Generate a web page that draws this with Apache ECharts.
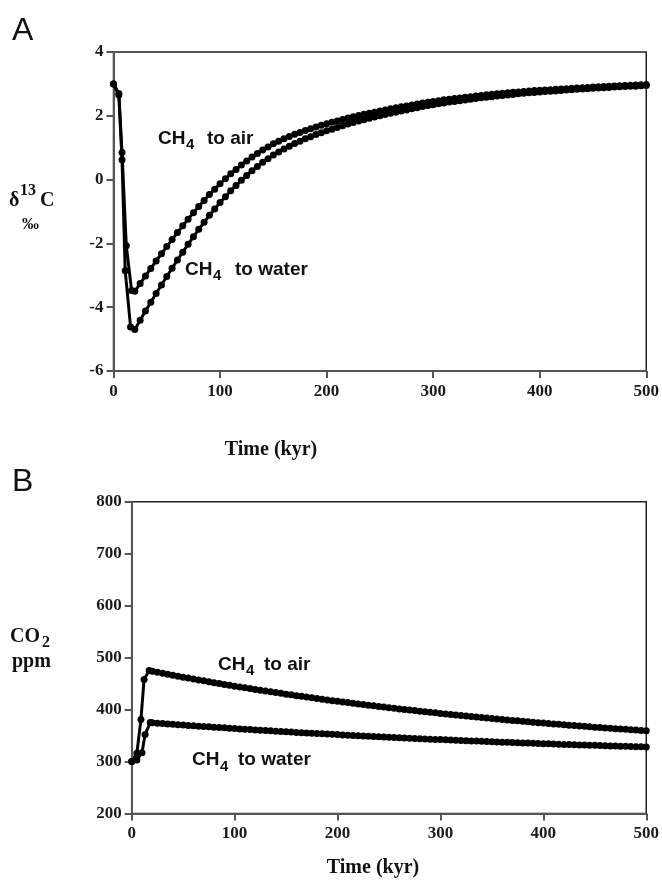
<!DOCTYPE html>
<html>
<head>
<meta charset="utf-8">
<script src="https://cdn.jsdelivr.net/npm/echarts@6/dist/echarts.min.js"></script>
<style>
html,body{margin:0;padding:0;background:#fff;}
#chart{width:662px;height:882px;}
</style>
</head>
<body>
<div id="chart"></div>
<script>
// ---- Data ----
// Time grid after the initial perturbation (kyr)
var tailTime = [20,25,30,35,40,45,50,55,60,65,70,75,80,85,90,95,100,105,110,115,
  120,125,130,135,140,145,150,155,160,165,170,175,180,185,190,195,200,205,210,215,
  220,225,230,235,240,245,250,255,260,265,270,275,280,285,290,295,300,305,310,315,
  320,325,330,335,340,345,350,355,360,365,370,375,380,385,390,395,400,405,410,415,
  420,425,430,435,440,445,450,455,460,465,470,475,480,485,490,495,500];

// Panel A: delta13C (permil)
var d13AirEarlyT = [0,5,8,12,17];
var d13AirEarly  = [3.0,2.7,0.85,-2.07,-3.48];
var d13WaterEarlyT = [0,5,8,11,16];
var d13WaterEarly  = [3.0,2.65,0.62,-2.86,-4.62];
var d13AirTail = [-3.50,-3.26,-3.02,-2.785,-2.55,-2.325,-2.10,-1.88,-1.66,-1.45,
  -1.24,-1.04,-0.84,-0.655,-0.47,-0.30,-0.13,0.025,0.18,0.32,
  0.46,0.585,0.71,0.82,0.93,1.025,1.12,1.20,1.28,1.35,
  1.42,1.48,1.54,1.595,1.65,1.70,1.75,1.795,1.84,1.885,
  1.93,1.97,2.01,2.045,2.08,2.115,2.15,2.185,2.22,2.25,
  2.28,2.31,2.34,2.37,2.40,2.425,2.45,2.475,2.50,2.52,
  2.54,2.56,2.58,2.60,2.62,2.64,2.66,2.675,2.69,2.705,
  2.72,2.735,2.75,2.765,2.78,2.79,2.80,2.81,2.82,2.83,
  2.84,2.85,2.86,2.87,2.88,2.89,2.90,2.91,2.92,2.93,
  2.935,2.945,2.95,2.96,2.965,2.975,2.98];
var d13WaterTail = [-4.70,-4.41,-4.12,-3.845,-3.57,-3.305,-3.04,-2.78,-2.52,-2.275,
  -2.03,-1.795,-1.56,-1.34,-1.12,-0.92,-0.72,-0.535,-0.35,-0.185,
  -0.02,0.13,0.28,0.41,0.54,0.655,0.77,0.865,0.96,1.045,
  1.13,1.205,1.28,1.345,1.41,1.47,1.53,1.58,1.635,1.69,
  1.74,1.79,1.835,1.88,1.92,1.96,2.00,2.04,2.08,2.115,
  2.15,2.185,2.22,2.255,2.29,2.32,2.35,2.38,2.405,2.43,
  2.45,2.475,2.495,2.52,2.54,2.565,2.585,2.60,2.62,2.64,
  2.655,2.67,2.69,2.705,2.72,2.73,2.745,2.76,2.77,2.78,
  2.795,2.805,2.815,2.83,2.84,2.85,2.86,2.87,2.88,2.89,
  2.90,2.91,2.915,2.925,2.93,2.94,2.95];

// Panel B: CO2 (ppm)
var co2AirEarlyT = [0,5,9,12,17];
var co2AirEarly  = [300,316,381,458,475];
var co2WaterEarlyT = [0,5,10,13,18];
var co2WaterEarly  = [300,303,317,352,375];
var co2AirTail = [473.8,471.9,469.9,468.0,466.1,464.3,462.4,460.6,458.8,457.0,
  455.3,453.5,451.8,450.1,448.4,446.8,445.1,443.5,441.9,440.3,
  438.8,437.2,435.7,434.2,432.7,431.2,429.7,428.3,426.8,425.4,
  424.0,422.6,421.3,419.9,418.6,417.2,415.9,414.6,413.4,412.1,
  410.8,409.6,408.4,407.2,406.0,404.8,403.6,402.5,401.3,400.2,
  399.1,398.0,396.9,395.8,394.7,393.7,392.6,391.6,390.6,389.5,
  388.5,387.6,386.6,385.6,384.7,383.7,382.8,381.9,381.0,380.0,
  379.2,378.3,377.4,376.5,375.7,374.8,374.0,373.2,372.4,371.6,
  370.8,370.0,369.2,368.4,367.7,366.9,366.2,365.4,364.7,364.0,
  363.3,362.6,361.9,361.2,360.5,359.8,359.2];
var co2WaterTail = [374.7,373.9,373.2,372.4,371.7,371.0,370.2,369.5,368.8,368.1,
  367.4,366.8,366.1,365.4,364.8,364.1,363.5,362.8,362.2,361.5,
  360.9,360.3,359.7,359.1,358.5,357.9,357.3,356.7,356.1,355.6,
  355.0,354.5,353.9,353.4,352.8,352.3,351.8,351.2,350.7,350.2,
  349.7,349.2,348.7,348.2,347.7,347.2,346.7,346.3,345.8,345.3,
  344.9,344.4,344.0,343.5,343.1,342.6,342.2,341.8,341.3,340.9,
  340.5,340.1,339.7,339.3,338.9,338.5,338.1,337.7,337.3,336.9,
  336.6,336.2,335.8,335.5,335.1,334.7,334.4,334.0,333.7,333.4,
  333.0,332.7,332.4,332.0,331.7,331.4,331.1,330.8,330.4,330.1,
  329.8,329.5,329.2,328.9,328.6,328.3,328.1];

var xTicks = [0,100,200,300,400,500];
var yTicksA = [-6,-4,-2,0,2,4];
var yTicksB = [200,300,400,500,600,700,800];

// ---- Build ----
function pairs(tE, vE, tT, vT) {
  var out = [];
  for (var i = 0; i < tE.length; i++) out.push([tE[i], vE[i]]);
  for (var j = 0; j < tT.length; j++) out.push([tT[j], vT[j]]);
  return out;
}

var axisColor = '#555';
var tickFont = {fontFamily: 'Liberation Serif', fontWeight: 'bold', fontSize: 17, color: '#1a1a1a'};

function xAxisDef(gi) {
  return {
    gridIndex: gi, type: 'value', min: xTicks[0], max: xTicks[xTicks.length - 1],
    interval: xTicks[1] - xTicks[0],
    axisLine: {show: true, onZero: false, lineStyle: {color: axisColor, width: 2}},
    axisTick: {show: true, length: 7, lineStyle: {color: axisColor, width: 2}},
    axisLabel: Object.assign({margin: 12}, tickFont),
    splitLine: {show: false}
  };
}
function yAxisDef(gi, ticks) {
  return {
    gridIndex: gi, type: 'value', min: ticks[0], max: ticks[ticks.length - 1],
    interval: ticks[1] - ticks[0],
    axisLine: {show: true, onZero: false, lineStyle: {color: axisColor, width: 2}},
    axisTick: {show: true, length: 7, lineStyle: {color: axisColor, width: 2}},
    axisLabel: Object.assign({margin: 10}, tickFont),
    splitLine: {show: false}
  };
}
function seriesDef(xi, yi, data) {
  return {
    type: 'line', xAxisIndex: xi, yAxisIndex: yi, data: data,
    symbol: 'circle', symbolSize: 7, showAllSymbol: true,
    lineStyle: {color: '#000', width: 3},
    itemStyle: {color: '#000'},
    animation: false, silent: true
  };
}
function txt(x, y, text, font, align) {
  return {type: 'text', x: x, y: y, silent: true,
    style: {text: text, font: font, fill: '#111', align: align || 'left', verticalAlign: 'middle'}};
}

var sansB = 'bold 19px "Liberation Sans", Arial, sans-serif';
var sansSub = 'bold 15px "Liberation Sans", Arial, sans-serif';
var serifB = 'bold 20px "Liberation Serif", "Times New Roman", serif';
var serifSup = 'bold 16px "Liberation Serif", "Times New Roman", serif';
var panelFont = '32px "Liberation Sans", Arial, sans-serif';

var chart = echarts.init(document.getElementById('chart'), null, {renderer: 'canvas'});
chart.setOption({
  animation: false,
  backgroundColor: '#fff',
  grid: [
    {left: 113.5, top: 52, width: 535, height: 319, show: true, borderColor: '#222', borderWidth: 1.5, backgroundColor: 'transparent'},
    {left: 131.7, top: 501.7, width: 516.6, height: 311.8, show: true, borderColor: '#222', borderWidth: 1.5, backgroundColor: 'transparent'}
  ],
  xAxis: [xAxisDef(0), xAxisDef(1)],
  yAxis: [yAxisDef(0, yTicksA), yAxisDef(1, yTicksB)],
  series: [
    seriesDef(0, 0, pairs(d13AirEarlyT, d13AirEarly, tailTime, d13AirTail)),
    seriesDef(0, 0, pairs(d13WaterEarlyT, d13WaterEarly, tailTime, d13WaterTail)),
    seriesDef(1, 1, pairs(co2AirEarlyT, co2AirEarly, tailTime, co2AirTail)),
    seriesDef(1, 1, pairs(co2WaterEarlyT, co2WaterEarly, tailTime, co2WaterTail))
  ],
  graphic: [
    txt(12, 31, 'A', panelFont),
    txt(12, 482, 'B', panelFont),
    // Panel A y label
    txt(9, 201, 'δ', serifB),
    txt(20, 191, '13', serifSup),
    txt(40, 201, 'C', serifB),
    txt(22, 225, '‰', 'bold 17px "Liberation Serif", serif'),
    // Panel B y label
    txt(10, 637, 'CO', serifB),
    txt(42, 643, '2', serifSup),
    txt(12, 662, 'ppm', serifB),
    // x axis titles
    txt(271, 450, 'Time (kyr)', serifB, 'center'),
    txt(373, 868, 'Time (kyr)', serifB, 'center'),
    // Panel A curve labels
    txt(158, 139, 'CH', sansB), txt(186, 145, '4', sansSub), txt(207, 139, 'to air', sansB),
    txt(185, 270, 'CH', sansB), txt(213, 276, '4', sansSub), txt(235, 270, 'to water', sansB),
    // Panel B curve labels
    txt(218, 665, 'CH', sansB), txt(246, 671, '4', sansSub), txt(264, 665, 'to air', sansB),
    txt(192, 760, 'CH', sansB), txt(220, 767, '4', sansSub), txt(238, 760, 'to water', sansB)
  ]
});
</script>
</body>
</html>
